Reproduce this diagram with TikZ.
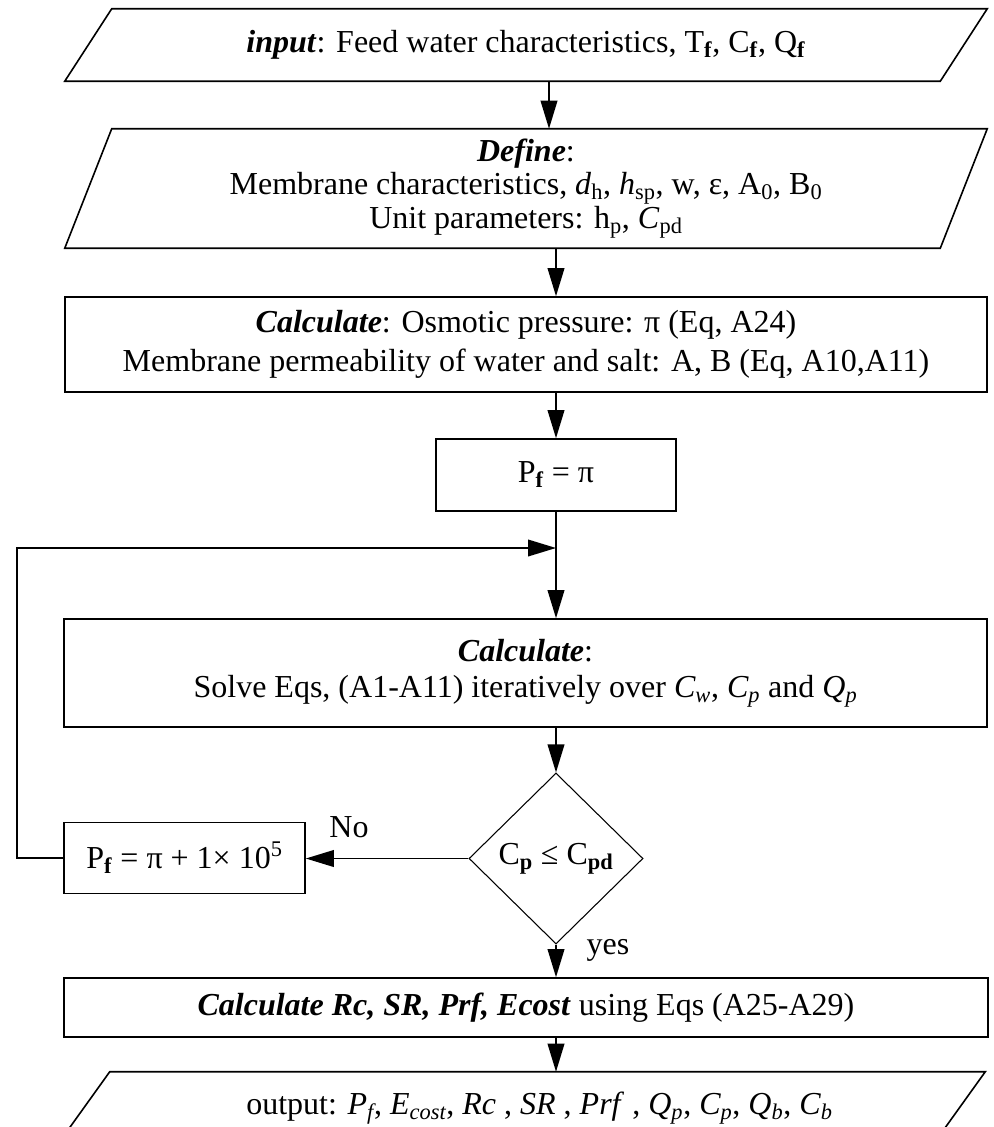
\documentclass[tikz,border=0pt]{standalone}
\usepackage{fontspec}
\setmainfont{Liberation Serif}
\usetikzlibrary{arrows.meta,shapes.geometric}
\begin{document}
\begin{tikzpicture}[x=0.75pt,y=-0.75pt,
  base/.style={font=\fontsize{24}{26}\selectfont, inner sep=0pt, align=center},
  box/.style={base, draw, line width=1.2pt, rectangle},
  para/.style={base},
  pline/.style={line width=1.2pt, line join=miter},
  arr/.style={line width=1.2pt, -{Triangle[length=21pt,width=12.5pt]}},
  lbl/.style={font=\fontsize{24}{26}\selectfont, inner sep=0pt}]
\useasboundingbox (0,0) rectangle (993,1127);
\clip (0,0) rectangle (993,1127);
\fill[white] (0,0) rectangle (993,1127);

\coordinate (colA) at (549,0);
\coordinate (colB) at (556,0);
\coordinate (loopL) at (17,548);

% input
\node[para, minimum width=875*0.75pt, minimum height=72*0.75pt] (in) at (526,45)
  {\textbf{\textit{input}}: Feed water characteristics, T\textsubscript{\textbf{f}}, C\textsubscript{\textbf{f}}, Q\textsubscript{\textbf{f}}};
\draw[pline] ([xshift=-23.5*0.75pt]in.south west) -- ([xshift=-23.5*0.75pt]in.south east)
  -- ([xshift=23.5*0.75pt]in.north east) -- ([xshift=23.5*0.75pt]in.north west) -- cycle;

% define
\node[para, minimum width=875*0.75pt, minimum height=119*0.75pt] (def) at (526,188.5)
  {\textbf{\textit{Define}}:\\[-1pt]
   Membrane characteristics, \textit{d}\textsubscript{h}, \textit{h}\textsubscript{sp}, w, ε, A\textsubscript{0}, B\textsubscript{0}\\[-1pt]
   Unit parameters: h\textsubscript{p}, \textit{C}\textsubscript{pd}};
\draw[pline] ([xshift=-23.5*0.75pt]def.south west) -- ([xshift=-23.5*0.75pt]def.south east)
  -- ([xshift=23.5*0.75pt]def.north east) -- ([xshift=23.5*0.75pt]def.north west) -- cycle;

% calculate 1
\node[box, minimum width=922*0.75pt, minimum height=95*0.75pt] (calc1) at (526,344.5)
  {\textbf{\textit{Calculate}}: Osmotic pressure: π (Eq, A24)\\[3pt]
   Membrane permeability of water and salt: A, B (Eq, A10,A11)};

% Pf = pi
\node[box, minimum width=240*0.75pt, minimum height=72*0.75pt] (pf) at (556,475)
  {P\textsubscript{\textbf{f}} = π};

% calculate 2
\node[box, minimum width=923*0.75pt, minimum height=108*0.75pt] (calc2) at (525.5,673)
  {\textbf{\textit{Calculate}}:\\[1pt]
   Solve Eqs, (A1-A11) iteratively over \textit{C\textsubscript{w}}, \textit{C\textsubscript{p}} and \textit{Q\textsubscript{p}}};

% decision
\node[base, draw, line width=0.8pt, shape=diamond, minimum width=174*0.75pt, minimum height=171*0.75pt] (dia) at (556,858.5)
  {C\textsubscript{\textbf{p}} ≤ C\textsubscript{\textbf{pd}}};

% Pf = pi + 1e5
\node[box, minimum width=241*0.75pt, minimum height=71*0.75pt] (pf2) at (184.5,858)
  {P\textsubscript{\textbf{f}} = π + 1× 10\textsuperscript{5}};

% calculate 3
\node[box, minimum width=924*0.75pt, minimum height=59*0.75pt] (calc3) at (526,1007.5)
  {\textbf{\textit{Calculate Rc, SR, Prf, Ecost}} using Eqs (A25-A29)};

% output
\node[para, minimum width=875*0.75pt, minimum height=72*0.75pt] (out) at (521.5,1108)
  {\hspace*{27pt}output: \textit{P\textsubscript{f}}, \textit{E\textsubscript{cost}}, \textit{Rc} , \textit{SR} , \textit{Prf} , \textit{Q\textsubscript{p}}, \textit{C\textsubscript{p}}, \textit{Q\textsubscript{b}}, \textit{C\textsubscript{b}}};
\draw[pline] ([xshift=-26*0.75pt]out.south west) -- ([xshift=-26*0.75pt]out.south east)
  -- ([xshift=26*0.75pt]out.north east) -- ([xshift=26*0.75pt]out.north west) -- cycle;

% labels
\node[lbl] (no) at (349,827) {No};
\node[lbl] (yes) at (608,950) {yes};

% connectors
\draw[arr] (in.south -| colA) -- (def.north -| colA);
\draw[arr] (def.south -| colB) -- (calc1.north -| colB);
\draw[arr] (calc1.south -| colB) -- (pf.north -| colB);
\draw[arr] (pf.south -| colB) -- (calc2.north -| colB);
\draw[arr] (calc2.south -| dia.north) -- (dia.north);
\draw[arr] (dia.west) -- (pf2.east |- dia.west);
\draw[arr] (pf2.west) -- (loopL |- pf2.west) -- (loopL) -- (loopL -| colB);
\draw[arr] (dia.south) -- (calc3.north -| dia.south);
\draw[arr] (calc3.south -| colB) -- (out.north -| colB);
\end{tikzpicture}
\end{document}
